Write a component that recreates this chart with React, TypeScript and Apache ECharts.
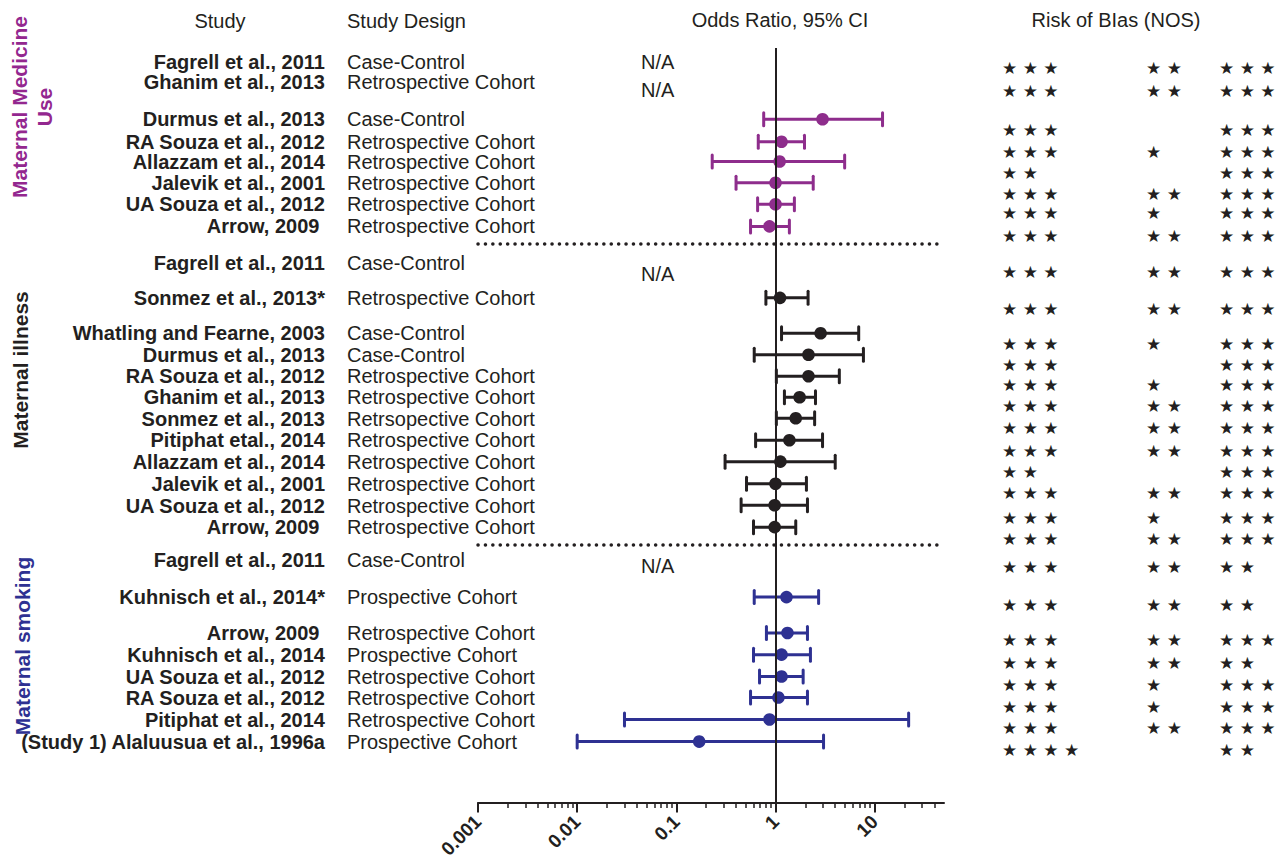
import React, { useEffect, useRef } from 'react';
import * as echarts from 'echarts';

const FONT = "'Liberation Sans', Arial, Helvetica, sans-serif";
const STAR_FONT = "'DejaVu Sans', sans-serif";
const INK = '#231F20';
const PURPLE = '#8E2D8C';
const PURPLE_LABEL = '#93278F';
const BLUE = '#2E3192';

// ---------- Section 1: Maternal Medicine Use ----------
const medNames = ['Fagrell et al., 2011', 'Ghanim et al., 2013', 'Durmus et al., 2013', 'RA Souza et al., 2012', 'Allazzam et al., 2014', 'Jalevik et al., 2001', 'UA Souza et al., 2012', 'Arrow, 2009 '];
const medDesigns = ['Case-Control', 'Retrospective Cohort', 'Case-Control', 'Retrospective Cohort', 'Retrospective Cohort', 'Retrospective Cohort', 'Retrospective Cohort', 'Retrospective Cohort'];
const medRows = [0, 0.93, 2.67, 3.72, 4.64, 5.63, 6.63, 7.66];
const medOR = [null, null, 2.98, 1.15, 1.1, 1.0, 1.0, 0.87];
const medLow = [null, null, 0.76, 0.67, 0.23, 0.4, 0.66, 0.56];
const medHigh = [null, null, 12.0, 1.96, 4.98, 2.4, 1.55, 1.38];
const medNARows = [0, 1.3];
const medStarRows = [0.28, 1.35, 3.17, 4.21, 5.17, 6.17, 7.03, 8.08];
const medSelection = [3, 3, 3, 3, 2, 3, 3, 3];
const medComparability = [2, 2, 0, 1, 0, 2, 1, 2];
const medOutcome = [3, 3, 3, 3, 3, 3, 3, 3];

// ---------- Section 2: Maternal illness ----------
const illNames = ['Fagrell et al., 2011', 'Sonmez et al., 2013*', 'Whatling and Fearne, 2003', 'Durmus et al., 2013', 'RA Souza et al., 2012', 'Ghanim et al., 2013', 'Sonmez et al., 2013', 'Pitiphat etal., 2014', 'Allazzam et al., 2014', 'Jalevik et al., 2001', 'UA Souza et al., 2012', 'Arrow, 2009 '];
const illDesigns = ['Case-Control', 'Retrospective Cohort', 'Case-Control', 'Case-Control', 'Retrospective Cohort', 'Retrospective Cohort', 'Retrsopective Cohort', 'Retrospective Cohort', 'Retrospective Cohort', 'Retrospective Cohort', 'Retrospective Cohort', 'Retrospective Cohort'];
const illRows = [9.36, 10.99, 12.64, 13.64, 14.64, 15.62, 16.6, 17.62, 18.62, 19.65, 20.65, 21.67];
const illOR = [null, 1.11, 2.85, 2.15, 2.15, 1.75, 1.6, 1.38, 1.12, 1.0, 0.98, 0.98];
const illLow = [null, 0.8, 1.15, 0.61, 1.02, 1.23, 1.02, 0.63, 0.31, 0.51, 0.45, 0.6];
const illHigh = [null, 2.13, 6.9, 7.7, 4.4, 2.53, 2.48, 2.98, 4.0, 2.05, 2.1, 1.6];
const illNARows = [9.87];
const illStarRows = [9.8, 11.48, 13.13, 14.11, 15.06, 16.04, 17.02, 18.11, 19.11, 20.09, 21.21, 22.21];
const illSelection = [3, 3, 3, 3, 3, 3, 3, 3, 2, 3, 3, 3];
const illComparability = [2, 2, 1, 0, 1, 2, 2, 2, 0, 2, 1, 2];
const illOutcome = [3, 3, 3, 3, 3, 3, 3, 3, 3, 3, 3, 3];

// ---------- Section 3: Maternal smoking ----------
const smkNames = ['Fagrell et al., 2011', 'Kuhnisch et al., 2014*', 'Arrow, 2009 ', 'Kuhnisch et al., 2014', 'UA Souza et al., 2012', 'RA Souza et al., 2012', 'Pitiphat et al., 2014', '(Study 1) Alaluusua et al., 1996a'];
const smkDesigns = ['Case-Control', 'Prospective Cohort', 'Retrospective Cohort', 'Prospective Cohort', 'Retrospective Cohort', 'Retrospective Cohort', 'Retrospective Cohort', 'Prospective Cohort'];
const smkRows = [23.18, 24.93, 26.6, 27.61, 28.63, 29.61, 30.63, 31.66];
const smkOR = [null, 1.29, 1.32, 1.15, 1.15, 1.07, 0.87, 0.17];
const smkLow = [null, 0.61, 0.81, 0.6, 0.69, 0.56, 0.03, 0.01];
const smkHigh = [null, 2.72, 2.1, 2.25, 1.9, 2.1, 22, 3.05];
const smkNARows = [23.46];
const smkStarRows = [23.49, 25.26, 26.93, 27.96, 29.0, 30.01, 31.01, 32.05];
const smkSelection = [3, 3, 3, 3, 3, 3, 3, 4];
const smkComparability = [2, 2, 2, 2, 1, 1, 2, 0];
const smkOutcome = [2, 2, 3, 2, 3, 3, 3, 2];

// ---------- Axis ----------
const tickValues = [0.001, 0.01, 0.1, 1, 10];
const tickLabels = ['0.001', '0.01', '0.1', '1', '10'];
const minorTickValues = [
  0.002, 0.003, 0.004, 0.005, 0.006, 0.007, 0.008, 0.009,
  0.02, 0.03, 0.04, 0.05, 0.06, 0.07, 0.08, 0.09,
  0.2, 0.3, 0.4, 0.5, 0.6, 0.7, 0.8, 0.9,
  2, 3, 4, 5, 6, 7, 8, 9,
  20, 30, 40,
];
const xMin = 0.001;
const xMax = 50;
const nullOR = 1;
const separatorRows = [8.47, 22.49];
const naX = 0.044;
const nosColumnX = [0, 0.664, 1];

const Y_MIN = -0.65;
const Y_MAX = 34.5;

const sections = [
  { names: medNames, designs: medDesigns, rows: medRows, or: medOR, lo: medLow, hi: medHigh, na: medNARows, starRows: medStarRows, stars: [medSelection, medComparability, medOutcome], color: PURPLE },
  { names: illNames, designs: illDesigns, rows: illRows, or: illOR, lo: illLow, hi: illHigh, na: illNARows, starRows: illStarRows, stars: [illSelection, illComparability, illOutcome], color: INK },
  { names: smkNames, designs: smkDesigns, rows: smkRows, or: smkOR, lo: smkLow, hi: smkHigh, na: smkNARows, starRows: smkStarRows, stars: [smkSelection, smkComparability, smkOutcome], color: BLUE },
];

const starText = (n: number) => Array.from({ length: n }, () => '★').join(' ');

function textSeries(axisIdx: number, yIdx: number, data: any[], position: string, extra: any) {
  return {
    type: 'scatter',
    xAxisIndex: axisIdx,
    yAxisIndex: yIdx,
    data,
    symbolSize: 0,
    silent: true,
    itemStyle: { color: 'rgba(0,0,0,0)', opacity: 1 },
    label: {
      show: true,
      position,
      distance: 0,
      formatter: (p: any) => p.value[2],
      fontFamily: FONT,
      fontSize: 20,
      color: INK,
      opacity: 1,
      ...extra,
    },
    z: 5,
  };
}

export default function App() {
  const ref = useRef<HTMLDivElement>(null);
  useEffect(() => {
    if (!ref.current) return;
    const chart = echarts.init(ref.current, undefined, { renderer: 'svg' });

    const nameData: any[] = [];
    const designData: any[] = [];
    const naData: any[] = [];
    const starData: any[] = [];
    sections.forEach((s) => {
      s.names.forEach((n, i) => nameData.push([1, s.rows[i], n]));
      s.designs.forEach((d, i) => designData.push([0, s.rows[i], d]));
      s.na.forEach((r) => naData.push([naX, r, 'N/A']));
      s.starRows.forEach((r, i) => {
        s.stars.forEach((col, j) => {
          if (col[i] > 0) starData.push([nosColumnX[j], r, starText(col[i])]);
        });
      });
    });

    const forestSeries = sections.map((s, si) => {
      const data: any[] = [];
      s.or.forEach((v, i) => {
        if (v != null) data.push([s.lo[i], s.hi[i], v, s.rows[i]]);
      });
      const color = s.color;
      const ser: any = {
        type: 'custom',
        xAxisIndex: 2,
        yAxisIndex: 2,
        data,
        encode: { x: [0, 1, 2], y: 3 },
        silent: true,
        z: 4,
        renderItem: (params: any, api: any) => {
          const y = api.value(3);
          const a = api.coord([api.value(0), y]);
          const b = api.coord([api.value(1), y]);
          const c = api.coord([api.value(2), y]);
          const h = 6.5;
          return {
            type: 'group',
            children: [
              { type: 'line', shape: { x1: a[0], y1: a[1], x2: b[0], y2: b[1] }, style: { stroke: color, lineWidth: 3 } },
              { type: 'line', shape: { x1: a[0], y1: a[1] - h, x2: a[0], y2: a[1] + h }, style: { stroke: color, lineWidth: 3, lineCap: 'round' } },
              { type: 'line', shape: { x1: b[0], y1: b[1] - h, x2: b[0], y2: b[1] + h }, style: { stroke: color, lineWidth: 3, lineCap: 'round' } },
              { type: 'circle', shape: { cx: c[0], cy: c[1], r: 6.3 }, style: { fill: color } },
            ],
          };
        },
      };
      if (si === 0) {
        ser.markLine = {
          silent: true,
          symbol: ['none', 'none'],
          label: { show: false },
          animation: false,
          data: [
            { xAxis: nullOR, lineStyle: { color: INK, width: 2, type: 'solid' } },
            ...separatorRows.map((r) => ({
              yAxis: r,
              lineStyle: { color: INK, width: 3.5, type: [0.1, 7.3], cap: 'round' },
            })),
          ],
        };
      }
      return ser;
    });

    const yAxisBase = { type: 'value', inverse: true, min: Y_MIN, max: Y_MAX, show: false };
    const hiddenX = { type: 'value', min: 0, max: 1, show: false };
    const forestGrid = { left: 478, right: 339, top: 48, bottom: 58 };

    const option: any = {
      animation: false,
      backgroundColor: '#ffffff',
      grid: [
        { left: 0, width: 325, top: 48, bottom: 58 },
        { left: 347, width: 200, top: 48, bottom: 58 },
        { ...forestGrid },
        { left: 1002, right: 64, top: 48, bottom: 58 },
        { ...forestGrid },
      ],
      xAxis: [
        { ...hiddenX, gridIndex: 0 },
        { ...hiddenX, gridIndex: 1 },
        {
          type: 'log',
          logBase: 10,
          gridIndex: 2,
          min: xMin,
          max: xMax,
          position: 'bottom',
          axisLine: { show: true, onZero: false, lineStyle: { color: INK, width: 2 } },
          axisTick: { show: true, length: 10, lineStyle: { color: INK, width: 2 }, customValues: tickValues },
          axisLabel: {
            customValues: tickValues,
            rotate: 45,
            margin: 16,
            fontFamily: FONT,
            fontWeight: 'bold',
            fontSize: 19,
            color: INK,
            formatter: (v: number) => {
              const i = tickValues.findIndex((t) => Math.abs(t - v) / t < 1e-6);
              return i >= 0 ? tickLabels[i] : '';
            },
          },
          splitLine: { show: false },
        },
        { ...hiddenX, gridIndex: 3 },
        {
          type: 'log',
          logBase: 10,
          gridIndex: 4,
          min: xMin,
          max: xMax,
          position: 'bottom',
          axisLine: { show: false, onZero: false },
          axisTick: { show: true, length: 5, lineStyle: { color: INK, width: 1.5 }, customValues: minorTickValues },
          axisLabel: { show: false },
          splitLine: { show: false },
        },
      ],
      yAxis: [
        { ...yAxisBase, gridIndex: 0 },
        { ...yAxisBase, gridIndex: 1 },
        { ...yAxisBase, gridIndex: 2 },
        { ...yAxisBase, gridIndex: 3 },
        { ...yAxisBase, gridIndex: 4 },
      ],
      graphic: [
        { type: 'text', x: 220, y: 21, style: { text: 'Study', align: 'center', verticalAlign: 'middle', font: `20px ${FONT}`, fill: INK } },
        { type: 'text', x: 347, y: 21, style: { text: 'Study Design', align: 'left', verticalAlign: 'middle', font: `20px ${FONT}`, fill: INK } },
        { type: 'text', x: 780, y: 20, style: { text: 'Odds Ratio, 95% CI', align: 'center', verticalAlign: 'middle', font: `20px ${FONT}`, fill: INK } },
        { type: 'text', x: 1116, y: 20, style: { text: 'Risk of BIas (NOS)', align: 'center', verticalAlign: 'middle', font: `20px ${FONT}`, fill: INK } },
        { type: 'text', x: 32, y: 107, rotation: Math.PI / 2, style: { text: 'Maternal Medicine\nUse', align: 'center', verticalAlign: 'middle', font: `bold 21px ${FONT}`, lineHeight: 25, fill: PURPLE_LABEL } },
        { type: 'text', x: 20, y: 370, rotation: Math.PI / 2, style: { text: 'Maternal illness', align: 'center', verticalAlign: 'middle', font: `bold 21px ${FONT}`, fill: INK } },
        { type: 'text', x: 22, y: 646, rotation: Math.PI / 2, style: { text: 'Maternal smoking', align: 'center', verticalAlign: 'middle', font: `bold 21px ${FONT}`, fill: BLUE } },
      ],
      series: [
        textSeries(0, 0, nameData, 'left', { fontWeight: 'bold' }),
        textSeries(1, 1, designData, 'right', {}),
        textSeries(2, 2, naData, 'right', {}),
        textSeries(3, 3, starData, 'right', { fontFamily: STAR_FONT, fontSize: 17 }),
        ...forestSeries,
      ],
    };
    chart.setOption(option);
    return () => chart.dispose();
  }, []);

  return (
    <div
      ref={ref}
      style={{ position: 'fixed', left: 0, top: 0, width: 1283, height: 861, background: '#fff' }}
    />
  );
}
